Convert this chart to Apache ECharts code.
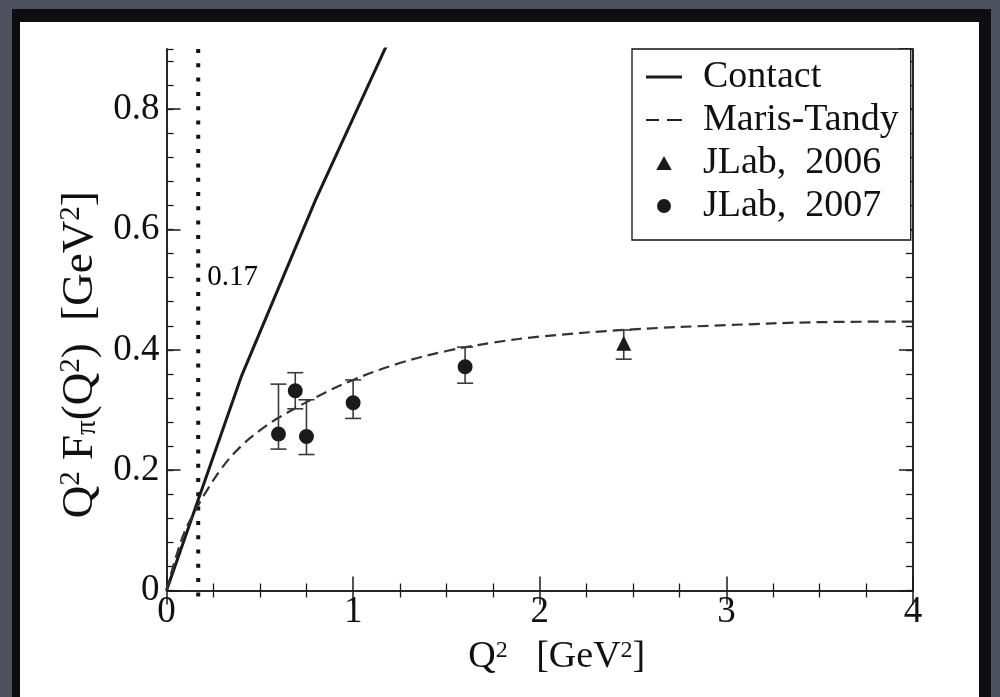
<!DOCTYPE html>
<html><head><meta charset="utf-8">
<script src="https://cdn.jsdelivr.net/npm/echarts@6/dist/echarts.min.js"></script>
<style>html,body{margin:0;padding:0;background:#fff}#c{width:1000px;height:697px}</style>
</head><body><div id="c"></div>
<script>
// ---- data ----
const contactQ2 = [0, 0.4, 0.8, 1.2];
const contactVal = [0, 0.355, 0.65, 0.92];
const mtQ2 = [0, 0.05, 0.1, 0.15, 0.2, 0.3, 0.4, 0.5, 0.6, 0.8, 1.0, 1.25, 1.5, 1.75, 2.0, 2.5, 3.0, 3.5, 4.0];
const mtVal = [0, 0.055, 0.1, 0.13, 0.158, 0.205, 0.24, 0.266, 0.287, 0.321, 0.35, 0.378, 0.398, 0.412, 0.422, 0.434, 0.441, 0.446, 0.447];
const jlab2007Q2 = [0.6, 0.69, 0.75, 1.0, 1.6];
const jlab2007Val = [0.26, 0.332, 0.256, 0.312, 0.372];
const jlab2007Lo = [0.235, 0.302, 0.226, 0.286, 0.3445];
const jlab2007Hi = [0.343, 0.362, 0.317, 0.35, 0.4045];
const jlab2006Q2 = [2.45];
const jlab2006Val = [0.411];
const jlab2006Lo = [0.3845];
const jlab2006Hi = [0.433];
const cutQ2 = 0.17;
const cutLabel = '0.17';
const cutLabelY = 0.521;
const seriesNames = ['Contact', 'Maris-Tandy', 'JLab, 2006', 'JLab, 2007'];

const FONT = "'Liberation Serif', 'Times New Roman', serif";
const zip = (a, b) => a.map((v, i) => [v, b[i]]);
const errData = (x, y, lo, hi) => x.map((v, i) => [v, y[i], lo[i], hi[i]]);

function renderErr(params, api) {
  const x = api.value(0), lo = api.value(2), hi = api.value(3);
  const p1 = api.coord([x, hi]), p2 = api.coord([x, lo]);
  const hw = 8;
  const style = { stroke: '#3a3a3a', lineWidth: 1.6, fill: null };
  return { type: 'group', children: [
    { type: 'line', shape: { x1: p1[0], y1: p1[1], x2: p2[0], y2: p2[1] }, style },
    { type: 'line', shape: { x1: p1[0] - hw, y1: p1[1], x2: p1[0] + hw, y2: p1[1] }, style },
    { type: 'line', shape: { x1: p2[0] - hw, y1: p2[1], x2: p2[0] + hw, y2: p2[1] }, style }
  ]};
}

const richX = {
  m: { fontFamily: FONT, fontSize: 38, color: '#111' },
  s: { fontFamily: FONT, fontSize: 24, color: '#111', verticalAlign: 'top' }
};
const richY = {
  m: { fontFamily: FONT, fontSize: 45, color: '#111' },
  s: { fontFamily: FONT, fontSize: 29, color: '#111', verticalAlign: 'top' },
  b: { fontFamily: FONT, fontSize: 29, color: '#111', verticalAlign: 'bottom' }
};
const axLine = { show: true, lineStyle: { color: '#1a1a1a', width: 1.5 } };
const majorTick = { inside: true, length: 14, lineStyle: { color: '#1a1a1a', width: 1.5 } };
const minorTickY = { inside: true, length: 7, lineStyle: { color: '#1a1a1a', width: 1.3 } };
const minorTickX = { show: true, splitNumber: 4, length: 7, lineStyle: { color: '#1a1a1a', width: 1.3 } };

const chart = echarts.init(document.getElementById('c'));
chart.setOption({
  animation: false,
  backgroundColor: '#fff',
  graphic: [
    { type: 'rect', z: -100, silent: true, shape: { x: 0, y: 0, width: 1000, height: 697 }, style: { fill: '#4d505d' } },
    { type: 'rect', z: -99, silent: true, shape: { x: 12, y: 9, width: 979, height: 700 }, style: { fill: '#0e0e10' } },
    { type: 'rect', z: -98, silent: true, shape: { x: 20, y: 22, width: 959, height: 690 }, style: { fill: '#ffffff' } }
  ],
  grid: { left: 166.5, right: 87, top: 49, bottom: 106.5, containLabel: false },
  legend: {
    left: 632, top: 49, orient: 'vertical',
    backgroundColor: '#fff', borderColor: '#111', borderWidth: 1.3,
    padding: [9, 12, 15, 14],
    itemWidth: 36, itemHeight: 14, itemGap: 5,
    symbolKeepAspect: true,
    textStyle: { fontFamily: FONT, fontSize: 38, color: '#111', lineHeight: 37, padding: [0, 0, 0, 16] },
    formatter: n => n.replace(', ', ',  '),
    data: [
      { name: 'Contact', icon: 'path://M0,0 L36,0 L36,3 L0,3 Z', itemStyle: { color: '#1a1a1a' } },
      { name: 'Maris-Tandy', icon: 'path://M0,0 L13,0 L13,2 L0,2 Z M21,0 L36,0 L36,2 L21,2 Z', itemStyle: { color: '#222' } },
      { name: 'JLab, 2006', icon: 'path://M5,0 L10,9 L0,9 Z' },
      { name: 'JLab, 2007', icon: 'circle' }
    ]
  },
  xAxis: [
    { type: 'value', min: 0, max: 4, interval: 1, position: 'bottom',
      name: '{m|Q}{s|2}{m|   [GeV}{s|2}{m|]}', nameLocation: 'middle', nameGap: 48,
      nameTextStyle: { rich: richX, padding: [0, 0, 0, 34] },
      axisLine: axLine, splitLine: { show: false },
      axisTick: majorTick, minorTick: minorTickX,
      axisLabel: { fontFamily: FONT, fontSize: 37, color: '#111', margin: 3 } },
    { type: 'value', min: 0, max: 4, interval: 1, position: 'top',
      axisLine: axLine, splitLine: { show: false }, axisLabel: { show: false },
      axisTick: majorTick, minorTick: minorTickX }
  ],
  yAxis: [
    { type: 'value', min: 0, max: 0.9, interval: 0.2, position: 'left',
      name: '{m|Q}{s|2}{m| F}{b|π}{m|(Q}{s|2}{m|)  [GeV}{s|2}{m|]}', nameLocation: 'middle', nameGap: 60, nameRotate: 90,
      nameTextStyle: { rich: richY, padding: [0, 70, 0, 0] },
      axisLine: axLine, splitLine: { show: false },
      axisTick: majorTick,
      axisLabel: { fontFamily: FONT, fontSize: 37, color: '#111', margin: 7, showMaxLabel: false } },
    { type: 'value', min: 0, max: 0.9, interval: 0.04, position: 'left',
      axisLine: axLine, splitLine: { show: false }, axisLabel: { show: false }, axisTick: minorTickY },
    { type: 'value', min: 0, max: 0.9, interval: 0.2, position: 'right',
      axisLine: axLine, splitLine: { show: false }, axisLabel: { show: false }, axisTick: majorTick },
    { type: 'value', min: 0, max: 0.9, interval: 0.04, position: 'right',
      axisLine: axLine, splitLine: { show: false }, axisLabel: { show: false }, axisTick: minorTickY }
  ],
  series: [
    { name: 'cut', type: 'line', clip: false, symbol: 'none', silent: true, z: 1,
      data: [[cutQ2, 0.9], [cutQ2, -0.015]],
      lineStyle: { color: '#111', width: 4, type: [4, 10.3], cap: 'butt' } },
    { name: 'cutLabel', type: 'scatter', symbolSize: 0, silent: true,
      itemStyle: { opacity: 1 },
      data: [[cutQ2, cutLabelY]],
      label: { show: true, position: 'right', distance: 9, formatter: cutLabel,
               fontFamily: FONT, fontSize: 29, color: '#000', opacity: 1, textBorderWidth: 0 } },
    { name: 'Contact', type: 'line', symbol: 'none', data: zip(contactQ2, contactVal), z: 3,
      lineStyle: { color: '#1a1a1a', width: 3 }, itemStyle: { color: '#1a1a1a' } },
    { name: 'Maris-Tandy', type: 'line', symbol: 'none', smooth: 0.4, z: 3,
      data: zip(mtQ2, mtVal),
      lineStyle: { color: '#333', width: 2.2, type: [11, 6] }, itemStyle: { color: '#333' } },
    { name: 'err2007', type: 'custom', renderItem: renderErr, z: 4, silent: true,
      data: errData(jlab2007Q2, jlab2007Val, jlab2007Lo, jlab2007Hi) },
    { name: 'err2006', type: 'custom', renderItem: renderErr, z: 4, silent: true,
      data: errData(jlab2006Q2, jlab2006Val, jlab2006Lo, jlab2006Hi) },
    { name: 'JLab, 2006', type: 'scatter', symbol: 'triangle', symbolSize: 15, z: 5,
      data: zip(jlab2006Q2, jlab2006Val), itemStyle: { color: '#1a1a1a', opacity: 1 } },
    { name: 'JLab, 2007', type: 'scatter', symbol: 'circle', symbolSize: 15, z: 5,
      data: zip(jlab2007Q2, jlab2007Val), itemStyle: { color: '#1a1a1a', opacity: 1 } }
  ]
});
</script></body></html>
